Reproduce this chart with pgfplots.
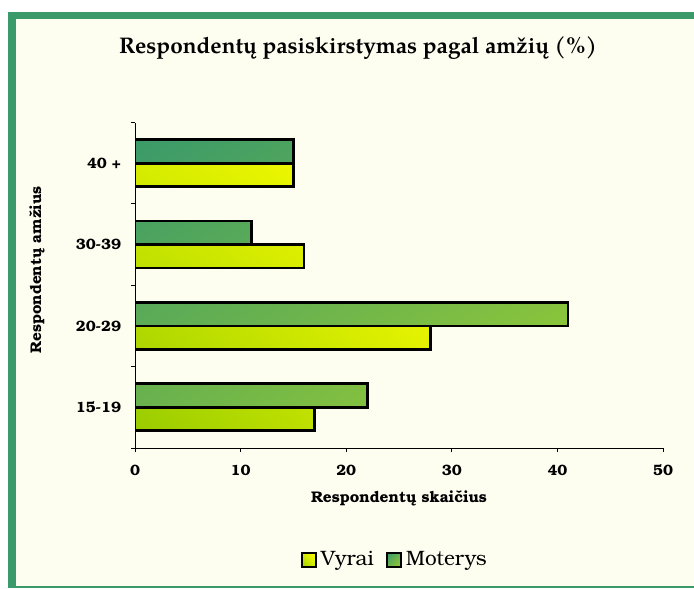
\documentclass[border=0pt]{standalone}
\usepackage{pgfplots}
\pgfplotsset{compat=1.18}
\usetikzlibrary{shadings}
\usepackage{fontspec}
\setmainfont{TeX Gyre Bonum}
\newfontfamily\titlefont{TeX Gyre Pagella}
\definecolor{frame}{HTML}{3A9A6A}
\definecolor{cream}{HTML}{FDFDF0}
\definecolor{vyA}{HTML}{99CC00}
\definecolor{vyB}{HTML}{D6EC00}
\definecolor{vyC}{HTML}{FFFF00}
\definecolor{moA}{HTML}{3A9A6A}
\definecolor{moB}{HTML}{6AB24E}
\definecolor{moC}{HTML}{9ACD32}
\pgfplotstableread{
pos vyrai moterys
0 17 22
1 28 41
2 16 11
3 15 15
}\datatable
\begin{document}
\begin{tikzpicture}[x=0.5pt,y=0.5pt]
\useasboundingbox (0,0) rectangle (694,588);
\fill[cream] (16,0) rectangle (694,569);
\fill[frame] (8,0) rectangle (16,576);
\fill[frame] (8,569) rectangle (694,576);
\fill[frame] (16,0) rectangle (694,2);
\node[font=\titlefont\bfseries\fontsize{11.3}{13}\selectfont] at (358,540) {Respondentų pasiskirstymas pagal amžių (\%)};
\begin{axis}[
  at={(67.5pt,70pt)}, anchor=south west,
  scale only axis,
  width=264pt, height=162.75pt,
  xmin=0, xmax=50, ymin=-0.5, ymax=3.5,
  xtick={0,10,20,30,40,50},
  ytick={-0.5,0.5,1.5,2.5,3.5},
  yticklabels={15-19,20-29,30-39,40 +},
  y tick label as interval,
  axis x line*=bottom, axis y line*=left,
  axis line style={-, black, line width=0.5pt},
  tick style={black, line width=0.5pt},
  tick align=outside,
  major tick length=2pt,
  /pgf/number format/assume math mode=true,
  ticklabel style={font=\bfseries\fontsize{7.5}{9}\selectfont},
  xticklabel style={yshift=-3pt},
  yticklabel style={xshift=-1.5pt},
  xlabel={Respondentų skaičius},
  ylabel={Respondentų amžius},
  every axis x label/.style={at={(axis description cs:0.5,-0.1536)}, anchor=center, font=\bfseries\fontsize{7.7}{9}\selectfont},
  every axis y label/.style={at={(axis description cs:-0.1856,0.547)}, anchor=center, rotate=90, font=\bfseries\fontsize{7.7}{9}\selectfont},
  legend style={at={(axis description cs:0.494,-0.344)}, anchor=center, draw=none, fill=none, legend columns=2, font=\fontsize{10.4}{12}\selectfont, /tikz/every even column/.append style={column sep=4pt}},
  legend image code/.code={\draw[#1,draw=black,line width=1pt] (0pt,-3.5pt) rectangle (7pt,3.5pt);},
]
\addplot[xbar, bar width=11.75pt, bar shift=-5.875pt, draw=black, line width=1.4pt,
  lower left=vyA, upper left=vyB, lower right=vyB, upper right=vyC] table[x=vyrai,y=pos]{\datatable};
\addlegendentry{Vyrai}
\addplot[xbar, bar width=11.75pt, bar shift=5.875pt, draw=black, line width=1.4pt,
  upper left=moA, lower left=moB, upper right=moB, lower right=moC] table[x=moterys,y=pos]{\datatable};
\addlegendentry{Moterys}
\end{axis}
\end{tikzpicture}
\end{document}
